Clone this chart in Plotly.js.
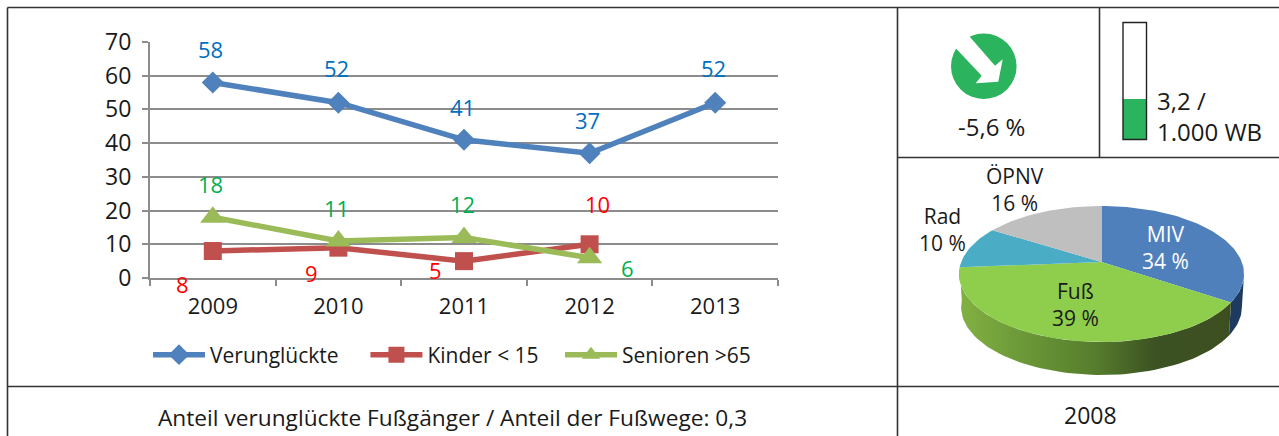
<!DOCTYPE html>
<html><head><meta charset="utf-8">
<script src="https://cdn.plot.ly/plotly-3.0.1.min.js"></script>
<style>html,body{margin:0;padding:0;background:#fff}#c{width:1279px;height:436px}</style>
</head><body><div id="c"></div>
<script>
const years = ['2009','2010','2011','2012','2013'];
const verunglueckte = [58,52,41,37,52];
const kinder = [8,9,5,10,null];
const senioren = [18,11,12,6,null];
const pieNames = ['MIV','Fuß','Rad','ÖPNV'];
const pieShares = [34,39,10,16];
const pieColors = ['#4f80bc','#8fce4d','#4bacc6','#bfbfbf'];
const rate = 3.2;
const rateMax = 9.2;
const FONT = '"Open Sans", sans-serif';
const INK = '#1a1a1a';
const W = 1279, H = 436;

// label offsets (pixels) from the data points
const offV = [[-2,-33],[-2,-35],[-2,-33],[-2,-33],[-2,-35]];
const offK = [[-30,33],[-27,25],[-29,9],[8,-40]];
const offS = [[-2,-33],[-2,-33],[-2,-34],[38,10]];

function valueLabels(vals, offs, color){
  const out = [];
  vals.forEach((v,i)=>{ if(v==null) return;
    out.push({xref:'x',yref:'y',x:i,y:v,text:String(v),showarrow:false,
      xshift:offs[i][0],yshift:-offs[i][1],font:{family:FONT,size:22,color:color}});
  });
  return out;
}

// pie geometry, all in the pixel-like coordinates of axes x2/y2
const cx=1101.5, cy=262, rx=140.3, ry=65.9, k=0.1765, depth=33, shrink=0.985;
function rim(deg, bottom){
  const t=deg*Math.PI/180, u=Math.sin(t), v=Math.cos(t), s=1/(1+k*v);
  const f=bottom?shrink:1;
  return [cx+rx*u*s*f, cy-ry*v*s+(bottom?depth:0)];
}
const total = pieShares.reduce((a,b)=>a+b,0);
const edges=[0]; pieShares.forEach(s=>edges.push(edges[edges.length-1]+s/total*360));
function arc(a,b,bottom){const p=[];const n=Math.max(2,Math.ceil(Math.abs(b-a)/2));
  for(let i=0;i<=n;i++)p.push(rim(a+(b-a)*i/n,bottom));return p;}
function polyTrace(pts,extra){
  return Object.assign({type:'scatter',mode:'lines',xaxis:'x2',yaxis:'y2',
    x:pts.map(p=>p[0]),y:pts.map(p=>p[1]),fill:'toself',line:{width:0},
    showlegend:false,hoverinfo:'skip'},extra);
}
const silhouette=100.2;
const wallBlue = arc(silhouette,edges[1],false).concat(arc(edges[1],silhouette,true));
wallBlue.push(wallBlue[0]);
const wallGreen = arc(edges[1],edges[2],false).concat(arc(edges[2],edges[1],true));
wallGreen.push(wallGreen[0]);
const wallTraces=[
  polyTrace(wallBlue,{fillcolor:'#1e3a5e'}),
  polyTrace(wallGreen,{fillgradient:{type:'horizontal',colorscale:[
    [0,'#82b142'],[0.2,'#6f9c3a'],[0.5,'#567d2d'],[0.72,'#3c5222'],[1,'#3d4f20']]}})
];
const sliceTraces=pieShares.map((s,i)=>{
  const pts=[[cx,cy]].concat(arc(edges[i],edges[i+1],false)); pts.push([cx,cy]);
  return polyTrace(pts,{fillcolor:pieColors[i]});
});

const lineTraces=[
 {name:'Verunglückte\u00A0\u00A0\u00A0\u00A0',y:verunglueckte,color:'#4f81bd',symbol:'diamond',size:17},
 {name:'Kinder < 15\u00A0\u00A0\u00A0',y:kinder,color:'#c0504d',symbol:'square',size:18},
 {name:'Senioren >65',y:senioren,color:'#9bbb59',symbol:'triangle-up',size:22}
].map(s=>({type:'scatter',mode:'lines+markers',name:s.name,x:years,y:s.y,
  line:{color:s.color,width:5.5},marker:{color:s.color,symbol:s.symbol,size:s.size},
  hoverinfo:'skip',cliponaxis:false}));

const barTrace={type:'bar',xaxis:'x3',yaxis:'y3',x:['WB'],y:[rate],width:[1],
  marker:{color:'#2bb35d',line:{width:0}},showlegend:false,hoverinfo:'skip'};

const line={color:'#333333',width:1.6};
function seg(x0,y0,x1,y1){return {type:'line',xref:'x2',yref:'y2',x0,y0,x1,y1,line};}
const shapes=[
  seg(7.5,7.5,1279,7.5), seg(7.5,7.5,7.5,436), seg(897.5,7.5,897.5,436),
  seg(1099.5,7.5,1099.5,157.5), seg(897.5,157.5,1279,157.5), seg(7.5,386.5,1279,386.5),
  {type:'circle',xref:'x2',yref:'y2',x0:951,x1:1016.6,y0:33.4,y1:99,fillcolor:'#2bb35d',line:{width:0},layer:'above'},
  {type:'path',xref:'x2',yref:'y2',layer:'above',fillcolor:'#ffffff',line:{width:0},
   path:'M 948 40 L 981.7 75.7 L 975.7 83.3 L 998.3 81.7 L 1002.7 59.3 L 995 65.7 L 963 29 Z'},
  {type:'rect',xref:'x2',yref:'y2',x0:1123,x1:1146.5,y0:22.5,y1:139.5,fillcolor:'rgba(0,0,0,0)',
   line:{color:'#222',width:1.4},layer:'above'}
];

function note(x,y,text,size,color,anchor){
  return {xref:'x2',yref:'y2',x,y,text,showarrow:false,xanchor:anchor||'center',yanchor:'middle',
    align:anchor||'center',font:{family:FONT,size,color:color||INK}};
}
const pieLabelPos=[[1165,247,'#ffffff'],[1075,304,INK],[942,229.5,INK],[1015,189,INK]];
const pieLabels=pieNames.map((n,i)=>{const p=pieLabelPos[i];
  return note(p[0],p[1],n+'<br>'+pieShares[i]+' %',21,p[2]);});

const annotations=[]
 .concat(valueLabels(verunglueckte,offV,'#0070c0'))
 .concat(valueLabels(kinder,offK,'#ff0000'))
 .concat(valueLabels(senioren,offS,'#00b050'))
 .concat(pieLabels)
 .concat([
  note(991.5,126,'-5,6 %',24),
  note(1155,116,'3,2 /<br>1.000 WB',24,INK,'left'),
  note(452.5,417,'Anteil verunglückte Fußgänger / Anteil der Fußwege: 0,3',22.7),
  note(1090,415,'2008',23)
 ]);

const layout={
  width:W,height:H,margin:{l:0,r:0,t:0,b:0,pad:0},paper_bgcolor:'#fff',plot_bgcolor:'rgba(0,0,0,0)',
  font:{family:FONT,color:INK},
  xaxis:{domain:[150/W,778/W],type:'category',categoryorder:'array',categoryarray:years,range:[-0.5,4.5],
    tickson:'boundaries',ticks:'outside',ticklen:6,tickcolor:'#8c8c8c',tickwidth:2,ticklabelstandoff:8,
    showline:true,linecolor:'#8c8c8c',linewidth:2,showgrid:false,zeroline:false,
    tickfont:{family:FONT,size:22,color:INK},anchor:'y'},
  yaxis:{domain:[(H-278)/H,(H-42)/H],range:[0,70],tickvals:[0,10,20,30,40,50,60,70],
    ticks:'outside',ticklen:6,tickcolor:'#8c8c8c',tickwidth:2,ticklabelstandoff:6,showline:true,linecolor:'#8c8c8c',linewidth:2,
    showgrid:true,gridcolor:'#8c8c8c',gridwidth:2,zeroline:false,tickfont:{family:FONT,size:23,color:INK},anchor:'x'},
  xaxis2:{domain:[0,1],range:[0,W],visible:false,anchor:'y2',fixedrange:true},
  yaxis2:{domain:[0,1],range:[H,0],visible:false,anchor:'x2',fixedrange:true},
  xaxis3:{domain:[1123/W,1146.5/W],type:'category',visible:false,anchor:'y3',range:[-0.5,0.5]},
  yaxis3:{domain:[(H-139.5)/H,(H-22.5)/H],range:[0,rateMax],visible:false,anchor:'x3'},
  legend:{orientation:'h',x:148/W,y:(H-355)/H,xanchor:'left',yanchor:'middle',itemwidth:52,
    font:{family:FONT,size:21,color:INK},bgcolor:'rgba(0,0,0,0)',traceorder:'normal'},
  showlegend:true,shapes,annotations,bargap:0
};
Plotly.newPlot('c',[].concat(wallTraces,sliceTraces,[barTrace],lineTraces),layout,{displayModeBar:false,staticPlot:true});
</script></body></html>
